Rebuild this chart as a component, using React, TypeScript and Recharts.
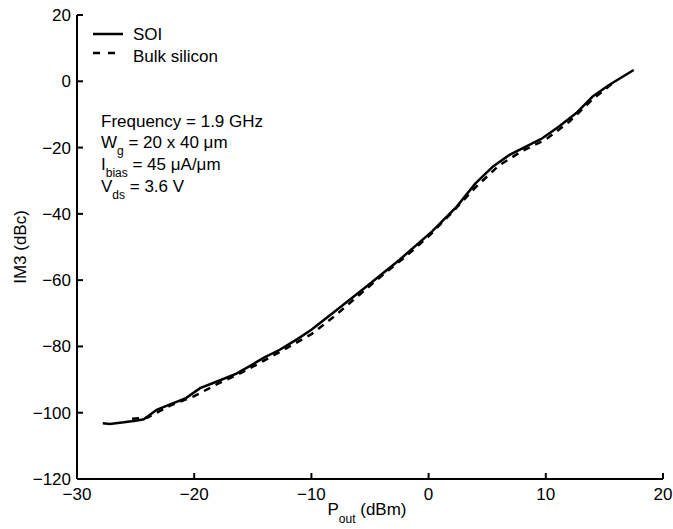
import { LineChart, Line, XAxis, YAxis } from "recharts";

// SOI curve (Pout dBm, IM3 dBc)
const soiPout = [-27.8, -27.2, -26, -25, -24.3, -23.2, -22, -20.7, -19.5, -18, -16.4, -15.3, -14, -12.7, -11.2, -10, -8.2, -5.3, -2.5, 0.3, 2.4, 4, 5.5, 6.9, 8.3, 9.7, 11.1, 12.6, 14, 15.4, 17.5];
const soiIm3 = [-103.2, -103.4, -102.9, -102.4, -102.0, -99.1, -97.4, -95.6, -92.6, -90.5, -88.2, -86.0, -83.3, -81.0, -77.8, -75.0, -70.0, -61.9, -53.9, -45.3, -37.8, -30.8, -25.7, -22.2, -19.7, -17.2, -13.7, -9.6, -4.6, -1.1, 3.4];

// Bulk silicon curve
const bulkPout = [-25.3, -24, -22, -20, -18, -16, -14, -12, -10, -8, -6, -4, -2, 0, 2, 4, 6, 8, 10, 12, 14, 16];
const bulkIm3 = [-101.8, -101.5, -97.8, -95.0, -91.3, -88.0, -84.2, -80.3, -76.3, -70.8, -64.7, -58.7, -53.0, -46.8, -39.6, -32.0, -25.4, -21.0, -17.6, -12.2, -5.4, 0.2];

const xTicks = [-30, -20, -10, 0, 10, 20];
const yTicks = [-120, -100, -80, -60, -40, -20, 0, 20];

const soiData = soiPout.map((x, i) => ({ x, y: soiIm3[i] }));
const bulkData = bulkPout.map((x, i) => ({ x, y: bulkIm3[i] }));

const font = "'Liberation Sans', Arial, Helvetica, sans-serif";
const fmt = (v: number) => (v < 0 ? `\u2212${-v}` : `${v}`);

const XLabel = (props: any) => {
  const vb = props.viewBox;
  const cx = vb.x + vb.width / 2 - 3;
  return (
    <text x={cx} y={515} textAnchor="middle" fontFamily={font} fontSize={17} fill="#000">
      P<tspan fontSize={12} dy={8}>out</tspan>
      <tspan dy={-8}> (dBm)</tspan>
    </text>
  );
};

export default function App() {
  return (
    <div style={{ position: "absolute", left: 0, top: 0, width: 673, height: 529, background: "#fff" }}>
      <LineChart width={673} height={529} margin={{ top: 15, right: 10, bottom: 0, left: 0 }}>
        <XAxis
          type="number"
          dataKey="x"
          domain={[-30, 20]}
          ticks={xTicks}
          allowDataOverflow
          height={50}
          tickSize={-6}
          tickMargin={15}
          tickFormatter={fmt}
          axisLine={{ stroke: "#000", strokeWidth: 2 }}
          tickLine={{ stroke: "#000", strokeWidth: 2 }}
          tick={{ fill: "#000", fontSize: 17, fontFamily: font }}
          label={{ content: XLabel }}
        />
        <YAxis
          type="number"
          dataKey="y"
          domain={[-120, 20]}
          ticks={yTicks}
          allowDataOverflow
          width={77}
          tickSize={-6}
          tickMargin={12}
          tickFormatter={fmt}
          axisLine={{ stroke: "#000", strokeWidth: 2 }}
          tickLine={{ stroke: "#000", strokeWidth: 2 }}
          tick={{ fill: "#000", fontSize: 17, fontFamily: font }}
          label={{ value: "IM3 (dBc)", angle: -90, position: "insideLeft", offset: 20, style: { fill: "#000", fontSize: 17, fontFamily: font, textAnchor: "middle" } }}
        />
        <Line data={bulkData} dataKey="y" type="linear" dot={false} stroke="#000" strokeWidth={2.5} strokeDasharray="7 6" isAnimationActive={false} />
        <Line data={soiData} dataKey="y" type="linear" dot={false} stroke="#000" strokeWidth={2.5} isAnimationActive={false} />
      </LineChart>
      <svg width={673} height={529} style={{ position: "absolute", left: 0, top: 0, pointerEvents: "none" }}>
        <g fontFamily={font} fontSize={17} fill="#000">
          <line x1={93} y1={34} x2={123} y2={34} stroke="#000" strokeWidth={2.5} />
          <text x={133} y={40}>SOI</text>
          <line x1={93} y1={53} x2={116} y2={53} stroke="#000" strokeWidth={2.5} strokeDasharray="7 8" />
          <text x={133} y={62}>Bulk silicon</text>
          <text x={101} y={127}>Frequency = 1.9 GHz</text>
          <text x={101} y={148}>
            W<tspan fontSize={12} dy={7}>g</tspan>
            <tspan dy={-7}> = 20 x 40 μm</tspan>
          </text>
          <text x={101} y={170}>
            I<tspan fontSize={12} dy={7}>bias</tspan>
            <tspan dy={-7}> = 45 μA/μm</tspan>
          </text>
          <text x={101} y={192}>
            V<tspan fontSize={12} dy={7}>ds</tspan>
            <tspan dy={-7}> = 3.6 V</tspan>
          </text>
        </g>
      </svg>
    </div>
  );
}
